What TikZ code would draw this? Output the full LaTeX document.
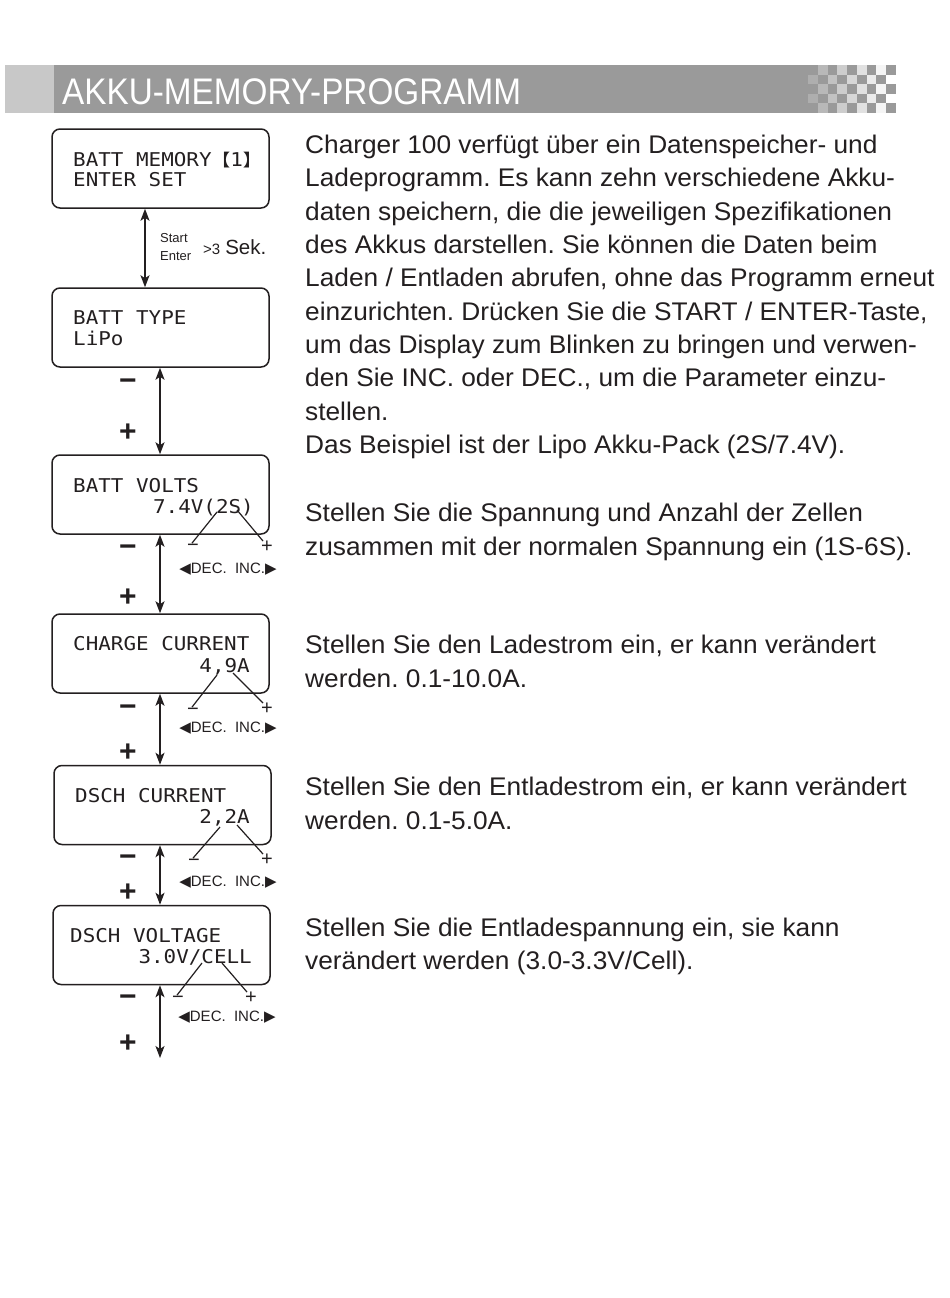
\documentclass[tikz,border=0pt]{standalone}
\usepackage{fontspec}
\setmainfont{Liberation Sans}
\newfontfamily\lcdfont{DejaVu Sans Mono}
\newfontfamily\dvsfont{DejaVu Sans}
\newfontfamily\cjkfont{Noto Sans CJK SC}
\usetikzlibrary{arrows.meta}
\definecolor{bannerdark}{HTML}{9A9A9A}
\definecolor{bannerlight}{HTML}{C8C8C8}
\definecolor{ink}{HTML}{231F20}
\frenchspacing
\begin{document}
\begin{tikzpicture}[x=1pt,y=-1pt,
  lcdbox/.style={draw=ink, line width=1.5pt, rounded corners=8pt, minimum width=217pt, minimum height=79pt, inner sep=0pt},
  lcdtxt/.style={font=\lcdfont\fontsize{19}{19}\selectfont, xscale=1.1, inner sep=0pt, text=ink},
  body/.style={font=\fontsize{25.5}{25.5}\selectfont, xscale=1.03, anchor=base west, inner sep=0pt, text=ink},
  updown/.style={{Stealth[length=12pt,width=9pt,inset=3pt]}-{Stealth[length=12pt,width=9pt,inset=3pt]}, line width=1.8pt, draw=ink},
  bigsign/.style={font=\bfseries\fontsize{30}{30}\selectfont, inner sep=0pt, text=ink},
  smallsign/.style={font=\fontsize{20}{20}\selectfont, inner sep=0pt, text=ink},
  decinc/.style={font=\fontsize{15}{15}\selectfont, inner sep=0pt, text=ink},
  pointer/.style={line width=1.2pt, draw=ink},
  tinylbl/.style={font=\fontsize{13}{13}\selectfont, inner sep=0pt, text=ink}
]
\useasboundingbox (0,0) rectangle (950,1298);
\fill[white] (0,0) rectangle (950,1298);

% ---------- banner ----------
\fill[bannerlight] (5,65) rectangle (54,113);
\fill[bannerdark] (54,65) rectangle (896,113);
\foreach \i in {0,...,8}{
  \foreach \j in {0,...,4}{
    \pgfmathtruncatemacro\myparity{mod(\i+\j,2)}
    \pgfmathtruncatemacro\mypc{20+10*\i}
    \ifnum\myparity=1
      \fill[white!\mypc!bannerdark] ({808+9.78*\i},{65+9.6*\j}) rectangle ({808+9.78*(\i+1)},{65+9.6*(\j+1)});
    \fi
  }
}
\node[anchor=base west, text=white, font=\fontsize{37}{37}\selectfont, xscale=0.9, inner sep=0pt] (title) at (62,104) {AKKU-MEMORY-PROGRAMM};

% ---------- LCD boxes ----------
\node[lcdbox] (b1) at (160.5,168.5) {};
\node[lcdbox] (b2) at (160.5,327.5) {};
\node[lcdbox] (b3) at (160.5,494.5) {};
\node[lcdbox] (b4) at (160.5,653.5) {};
\node[lcdbox] (b5) at (162.5,805) {};
\node[lcdbox] (b6) at (161.5,945) {};

\node[lcdtxt, anchor=base west] (t1a) at (73,166) {BATT MEMORY{\cjkfont\fontsize{17}{17}\selectfont 【}1{\cjkfont\fontsize{17}{17}\selectfont 】}};
\node[lcdtxt, anchor=base west] (t1b) at (73,186) {ENTER SET};
\node[lcdtxt, anchor=base west] (t2a) at (73,324) {BATT TYPE};
\node[lcdtxt, anchor=base west] (t2b) at (73,345) {LiPo};
\node[lcdtxt, anchor=base west] (t3a) at (73,492) {BATT VOLTS};
\node[lcdtxt, anchor=base east] (t3b) at (254,513) {7.4V(2S)};
\node[lcdtxt, anchor=base west] (t4a) at (73,650) {CHARGE CURRENT};
\node[lcdtxt, anchor=base east] (t4b) at (250,672) {4,9A};
\node[lcdtxt, anchor=base west] (t5a) at (75,802) {DSCH CURRENT};
\node[lcdtxt, anchor=base east] (t5b) at (250,823) {2,2A};
\node[lcdtxt, anchor=base west] (t6a) at (70,942) {DSCH VOLTAGE};
\node[lcdtxt, anchor=base east] (t6b) at (252,963) {3.0V/CELL};

% ---------- connectors ----------
\draw[updown] ([xshift=-15.5pt]b1.south) -- ([xshift=-15.5pt]b2.north);
\draw[updown] ([xshift=-0.5pt]b2.south) -- ([xshift=-0.5pt]b3.north);
\draw[updown] ([xshift=-0.5pt]b3.south) -- ([xshift=-0.5pt]b4.north);
\draw[updown] ([xshift=-0.5pt]b4.south) -- ([xshift=-2.5pt]b5.north);
\draw[updown] ([xshift=-2.5pt]b5.south) -- ([xshift=-1.5pt]b6.north);
\coordinate (end6) at (160,1058);
\draw[updown] ([xshift=-1.5pt]b6.south) -- (end6);

% arrow 1 labels
\node[tinylbl, anchor=west] (lstart) at (160,238) {Start};
\node[tinylbl, anchor=west] (lenter) at (160,256) {Enter};
\node[anchor=base west, inner sep=0pt, text=ink] (lsek) at (203,254.5) {{\fontsize{15}{15}\selectfont >3}\hspace{5pt}{\fontsize{20.5}{20.5}\selectfont Sek.}};

% big minus / plus
\node[bigsign] (m2) at (128,385) {−};
\node[bigsign] (p2) at (128,433) {+};
\node[bigsign] (m3) at (128,551) {−};
\node[bigsign] (p3) at (128,598) {+};
\node[bigsign] (m4) at (128,711) {−};
\node[bigsign] (p4) at (128,753) {+};
\node[bigsign] (m5) at (128,861) {−};
\node[bigsign] (p5) at (128,893) {+};
\node[bigsign] (m6) at (128,1001) {−};
\node[bigsign] (p6) at (128,1044) {+};

% small minus / plus with pointers and DEC/INC labels
\node[smallsign] (sm3) at (193,548) {−};
\node[smallsign] (sp3) at (267,547) {+};
\coordinate (tm3) at (217,512);
\coordinate (tp3) at (237,510);
\draw[pointer] ([xshift=-1pt,yshift=1pt]sm3.north) -- (tm3);
\draw[pointer] ([xshift=-4pt,yshift=0pt]sp3.north) -- (tp3);
\node[decinc] (d3) at (228,569) {{\dvsfont ◀}DEC.\ \ INC.{\dvsfont ▶}};

\node[smallsign] (sm4) at (193,712) {−};
\node[smallsign] (sp4) at (267,709) {+};
\coordinate (tm4) at (217,675);
\coordinate (tp4) at (233,673);
\draw[pointer] ([xshift=-1pt,yshift=1pt]sm4.north) -- (tm4);
\draw[pointer] ([xshift=-4pt,yshift=0pt]sp4.north) -- (tp4);
\node[decinc] (d4) at (228,728) {{\dvsfont ◀}DEC.\ \ INC.{\dvsfont ▶}};

\node[smallsign] (sm5) at (194,863) {−};
\node[smallsign] (sp5) at (267,860) {+};
\coordinate (tm5) at (220,827);
\coordinate (tp5) at (237,825);
\draw[pointer] ([xshift=-1pt,yshift=1pt]sm5.north) -- (tm5);
\draw[pointer] ([xshift=-4pt,yshift=0pt]sp5.north) -- (tp5);
\node[decinc] (d5) at (228,882) {{\dvsfont ◀}DEC.\ \ INC.{\dvsfont ▶}};

\node[smallsign] (sm6) at (178,1000) {−};
\node[smallsign] (sp6) at (251,998) {+};
\coordinate (tm6) at (202,963);
\coordinate (tp6) at (222,963);
\draw[pointer] ([xshift=-1pt,yshift=1pt]sm6.north) -- (tm6);
\draw[pointer] ([xshift=-4pt,yshift=0pt]sp6.north) -- (tp6);
\node[decinc] (d6) at (227,1017) {{\dvsfont ◀}DEC.\ \ INC.{\dvsfont ▶}};

% ---------- body text ----------
\node[body] (l1) at (305,153.5) {Charger 100 verfügt über ein Datenspeicher- und};
\node[body] (l2) at (305,186.8) {Ladeprogramm. Es kann zehn verschiedene Akku-};
\node[body] (l3) at (305,220.1) {daten speichern, die die jeweiligen Spezifikationen};
\node[body] (l4) at (305,253.5) {des Akkus darstellen. Sie können die Daten beim};
\node[body] (l5) at (305,286.8) {Laden / Entladen abrufen, ohne das Programm erneut};
\node[body] (l6) at (305,320.1) {einzurichten. Drücken Sie die START / ENTER-Taste,};
\node[body] (l7) at (305,353.5) {um das Display zum Blinken zu bringen und verwen-};
\node[body] (l8) at (305,386.8) {den Sie INC. oder DEC., um die Parameter einzu-};
\node[body] (l9) at (305,420.1) {stellen.};
\node[body] (l10) at (305,453.5) {Das Beispiel ist der Lipo Akku-Pack (2S/7.4V).};
\node[body] (l11) at (305,521.5) {Stellen Sie die Spannung und Anzahl der Zellen};
\node[body] (l12) at (305,555) {zusammen mit der normalen Spannung ein (1S-6S).};
\node[body] (l13) at (305,653.5) {Stellen Sie den Ladestrom ein, er kann verändert};
\node[body] (l14) at (305,687) {werden. 0.1-10.0A.};
\node[body] (l15) at (305,795.5) {Stellen Sie den Entladestrom ein, er kann verändert};
\node[body] (l16) at (305,829) {werden. 0.1-5.0A.};
\node[body] (l17) at (305,936) {Stellen Sie die Entladespannung ein, sie kann};
\node[body] (l18) at (305,969) {verändert werden (3.0-3.3V/Cell).};
\end{tikzpicture}
\end{document}
